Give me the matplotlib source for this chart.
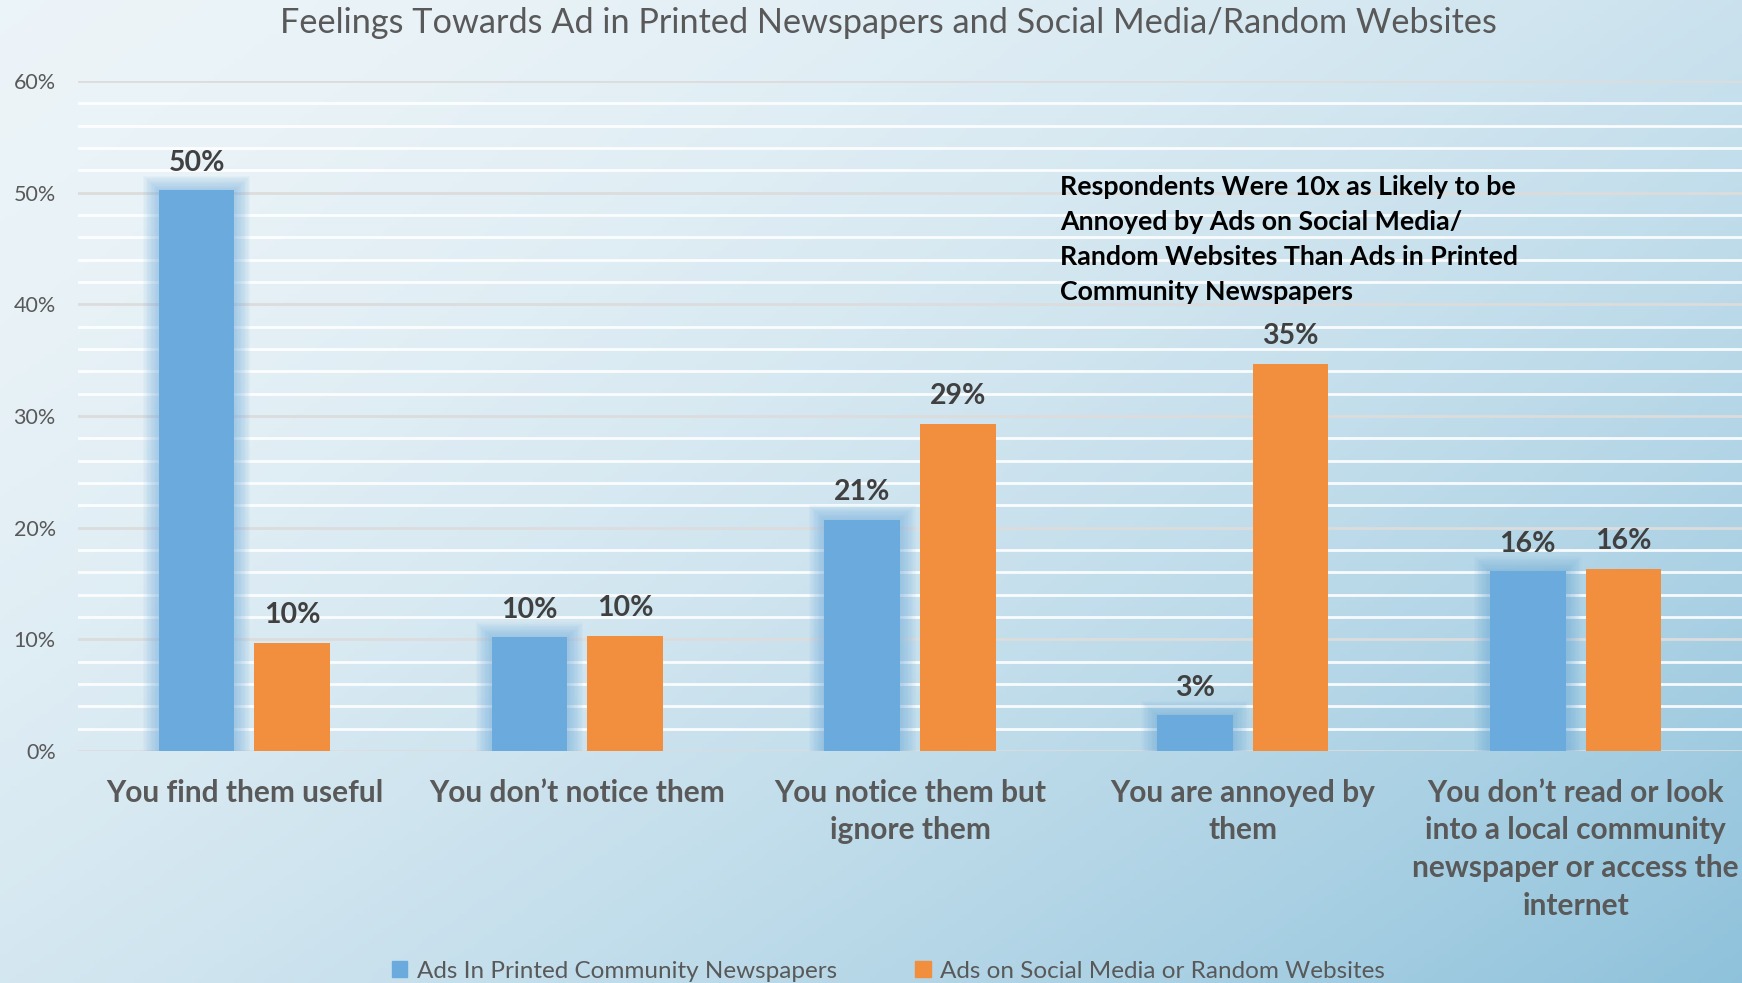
import numpy as np
import matplotlib.pyplot as plt
from matplotlib.patches import Patch

# data
categories = [
    "You find them useful",
    "You don\u2019t notice them",
    "You notice them but\nignore them",
    "You are annoyed by\nthem",
    "You don\u2019t read or look\ninto a local community\nnewspaper or access the\ninternet",
]
printed = [50.2, 10.2, 20.7, 3.2, 16.1]
social = [9.7, 10.3, 29.3, 34.7, 16.3]
printed_labels = ["50%", "10%", "21%", "3%", "16%"]
social_labels = ["10%", "10%", "29%", "35%", "16%"]
series_names = ["Ads In Printed Community Newspapers",
                "Ads on Social Media or Random Websites"]
yticks = [0, 10, 20, 30, 40, 50, 60]

title = "Feelings Towards Ad in Printed Newspapers and Social Media/Random Websites"
note = ("Respondents Were 10x as Likely to be\nAnnoyed by Ads on Social Media/\n"
        "Random Websites Than Ads in Printed\nCommunity Newspapers")

blue = "#6aaadc"
orange = "#f28f3f"
grey_txt = "#595959"
plt.rcParams['font.family'] = ['Lato', 'DejaVu Sans']

fig = plt.figure(figsize=(17.42, 9.83), dpi=100)

# background gradient (light top-left, deeper blue bottom-right)
bg = fig.add_axes([0, 0, 1, 1], zorder=-5)
ny, nx = 200, 350
xx, yy = np.meshgrid(np.linspace(0, 1, nx), np.linspace(0, 1, ny))
t = np.clip(0.55 * xx + 0.45 * yy, 0, 1) ** 1.7
c0 = np.array([0.925, 0.957, 0.973])
c1 = np.array([0.56, 0.76, 0.86])
img = c0[None, None, :] * (1 - t[..., None]) + c1[None, None, :] * t[..., None]
bg.imshow(img, aspect='auto', extent=[0, 1, 0, 1], origin='upper')
bg.axis('off')

ax = fig.add_axes([0.0448, 0.236, 0.9552, 0.6816])
ax.set_facecolor('none')

x = np.arange(len(categories))
w = 0.227
off = w / 2 + 0.03

# minor white gridlines every 2%, major light grey every 10%
for v in np.arange(2, 60, 2):
    if v % 10:
        ax.axhline(v, color='white', lw=2, alpha=0.9, zorder=0)
for v in yticks:
    ax.axhline(v, color='#dcdcdc', lw=2, zorder=0.5)

# soft glow behind the blue bars
for i in range(12, 0, -1):
    d = i * 0.004
    ax.bar(x - off, np.array(printed) + i * 0.11, width=w + 2 * d,
           color=blue, alpha=0.05, lw=0, zorder=1)

ax.bar(x - off, printed, width=w, color=blue, zorder=2)
ax.bar(x + off, social, width=w, color=orange, zorder=2)

for xi, v, lab in zip(x - off, printed, printed_labels):
    ax.text(xi, v + 1.3, lab, ha='center', va='bottom', fontsize=20.5,
            fontweight='bold', color='#404040')
for xi, v, lab in zip(x + off, social, social_labels):
    ax.text(xi, v + 1.3, lab, ha='center', va='bottom', fontsize=20.5,
            fontweight='bold', color='#404040')

ax.set_xlim(-0.5, len(categories) - 0.5)
ax.set_ylim(0, 60)
ax.set_yticks(yticks)
ax.set_yticklabels([f"{v}%" for v in yticks], fontsize=15.5, color=grey_txt)
ax.set_xticks(x)
ax.set_xticklabels(categories, fontsize=21.5, fontweight='bold', color=grey_txt,
                   linespacing=1.42, va='top')
ax.tick_params(axis='both', length=0)
ax.tick_params(axis='y', pad=16)
ax.tick_params(axis='x', pad=20)
for s in ax.spines.values():
    s.set_visible(False)

ax.text(2.45, 51.6, note, fontsize=19.3, fontweight='bold',
        color='black', va='top', ha='left', linespacing=1.55)

fig.text(0.51, 0.977, title, ha='center', va='center', fontsize=24.7,
         color=grey_txt)

handles = [Patch(color=blue), Patch(color=orange)]
fig.legend(handles, series_names, loc='center', bbox_to_anchor=(0.51, 0.012),
           ncol=2, frameon=False, fontsize=17.5, handlelength=0.65,
           handleheight=0.65, handletextpad=0.4, columnspacing=3.2,
           labelcolor=grey_txt)

fig.savefig("out.png", dpi=100)
